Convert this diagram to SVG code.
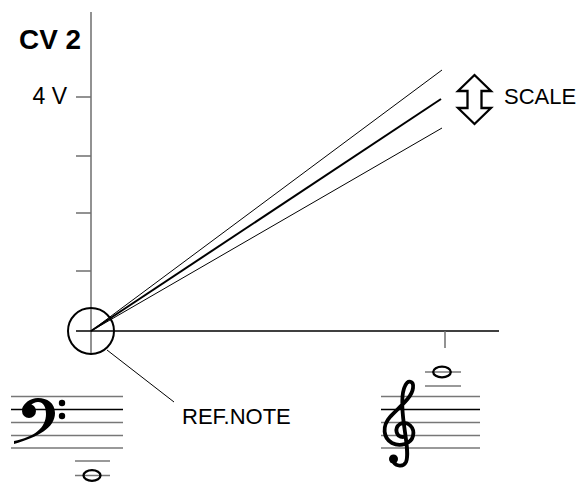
<svg xmlns="http://www.w3.org/2000/svg" width="584" height="482" viewBox="0 0 584 482">
<style>
text{font-family:"Liberation Sans",Arial,sans-serif;fill:#000}
.lbl{font-size:22px}
.g{stroke:#6e6e6e;stroke-width:1.5;fill:none}
.k{stroke:#000;stroke-width:1.3;fill:none}
.staff{stroke:#777;stroke-width:1.5}
.staffk{stroke:#000;stroke-width:1.5}
.note{fill:none;stroke:#000;stroke-width:2.3}
</style>
<rect width="584" height="482" fill="#fff"/>
<g id="axes">
<line class="g" x1="91" y1="12" x2="91" y2="355"/>
<line class="g" x1="76" y1="97" x2="91" y2="97"/>
<line class="g" x1="76" y1="156" x2="91" y2="156"/>
<line class="g" x1="76" y1="213" x2="91" y2="213"/>
<line class="g" x1="76" y1="271" x2="91" y2="271"/>
<line class="k" x1="76" y1="331" x2="499" y2="331"/>
<line class="g" x1="445" y1="331" x2="445" y2="348"/>
<text x="19" y="49" font-size="27" font-weight="bold" textLength="62" lengthAdjust="spacingAndGlyphs">CV 2</text>
<text x="67" y="104" font-size="23" text-anchor="end">4 V</text>
</g>
<g id="connectors">
<line x1="91" y1="331" x2="442" y2="70" stroke="#000" stroke-width="1"/>
<line x1="91" y1="331" x2="441" y2="99" stroke="#000" stroke-width="2"/>
<line x1="91" y1="331" x2="442" y2="128" stroke="#000" stroke-width="1"/>
<line x1="107" y1="350" x2="174" y2="402" stroke="#000" stroke-width="1"/>
</g>
<g id="refnote">
<circle cx="91" cy="331" r="23" fill="none" stroke="#000" stroke-width="2"/>
<text class="lbl" x="182" y="424">REF.NOTE</text>
</g>
<g id="scale">
<path d="M474.5 75 L491 91 L481.5 91 L481.5 108 L491 108 L474.5 124 L458 108 L467.5 108 L467.5 91 L458 91 Z" fill="#fff" stroke="#000" stroke-width="2.3" stroke-linejoin="miter"/>
<text class="lbl" x="504" y="104">SCALE</text>
</g>
<g id="bass-staff">
<line class="staff" x1="11" y1="396.5" x2="123" y2="396.5"/>
<line class="staffk" x1="11" y1="409.5" x2="123" y2="409.5"/>
<line class="staff" x1="11" y1="422.5" x2="123" y2="422.5"/>
<line class="staff" x1="11" y1="435.5" x2="123" y2="435.5"/>
<line class="staff" x1="11" y1="448" x2="123" y2="448"/>
<path d="M14 444 C38 437 55 428 55 413 C55 403 47 398 38 398 C30 398 24 403 22 409 L30 406 C33 403 35 402 38 402 C44 402 46 408 46 414 C46 428 34 437 14 441 Z" fill="#000"/>
<circle cx="29" cy="411" r="7" fill="#000"/>
<circle cx="62" cy="403" r="3.2" fill="#000"/>
<circle cx="62" cy="416" r="3.2" fill="#000"/>
<line class="staff" x1="75" y1="461" x2="110" y2="461"/>
<line class="staff" x1="75" y1="475.5" x2="110" y2="475.5"/>
<ellipse class="note" cx="92" cy="475.5" rx="8.5" ry="5.3"/>
</g>
<g id="treble-staff">
<line class="staff" x1="381" y1="396.5" x2="480" y2="396.5"/>
<line class="staffk" x1="381" y1="409.5" x2="480" y2="409.5"/>
<line class="staff" x1="381" y1="422.5" x2="480" y2="422.5"/>
<line class="staff" x1="381" y1="435.5" x2="480" y2="435.5"/>
<line class="staff" x1="381" y1="448" x2="480" y2="448"/>
<path d="M403 437 C396 437 394 428 400 424 C408 420 415 428 413 436 C411 444 400 447 392 443 C383 438 382 426 390 417 C398 408 412 398 413 388 C414 381 408 379 405 386 C401 394 402 410 404 425 C406 440 409 455 406 462 C403 468 394 466 393 460" fill="none" stroke="#000" stroke-width="3.8" stroke-linecap="round" stroke-linejoin="round"/>
<circle cx="393.5" cy="459" r="4.5" fill="#000"/>
<line class="staff" x1="425" y1="386" x2="461" y2="386"/>
<line class="staff" x1="425" y1="372" x2="461" y2="372"/>
<ellipse class="note" cx="442" cy="372" rx="8.8" ry="5.3"/>
</g>
</svg>
